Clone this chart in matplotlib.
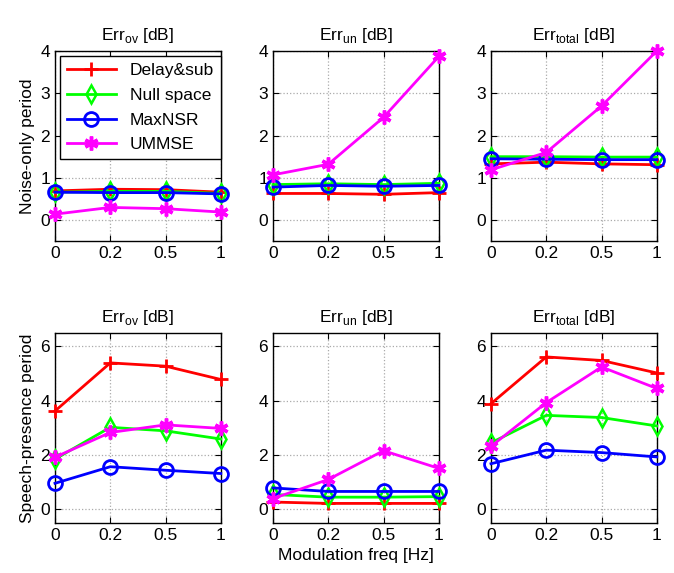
import matplotlib
matplotlib.use("Agg")
import matplotlib.pyplot as plt

plt.rcParams['font.family'] = ['Liberation Sans', 'DejaVu Sans']

# x categories (plotted equally spaced)
freqs = ["0", "0.2", "0.5", "1"]
methods = ["Delay&sub", "Null space", "MaxNSR", "UMMSE"]

# noise-only period
noise_ov = {
    "Delay&sub": [0.69, 0.73, 0.72, 0.66],
    "Null space": [0.66, 0.68, 0.68, 0.63],
    "MaxNSR": [0.66, 0.65, 0.65, 0.62],
    "UMMSE": [0.14, 0.30, 0.27, 0.19],
}
noise_un = {
    "Delay&sub": [0.63, 0.63, 0.61, 0.65],
    "Null space": [0.84, 0.86, 0.84, 0.87],
    "MaxNSR": [0.78, 0.82, 0.80, 0.82],
    "UMMSE": [1.07, 1.32, 2.43, 3.87],
}
noise_total = {
    "Delay&sub": [1.33, 1.37, 1.33, 1.31],
    "Null space": [1.50, 1.50, 1.49, 1.49],
    "MaxNSR": [1.45, 1.44, 1.43, 1.43],
    "UMMSE": [1.19, 1.60, 2.70, 4.00],
}

# speech-presence period
speech_ov = {
    "Delay&sub": [3.62, 5.39, 5.27, 4.78],
    "Null space": [1.85, 3.02, 2.89, 2.59],
    "MaxNSR": [0.96, 1.57, 1.44, 1.32],
    "UMMSE": [1.92, 2.83, 3.11, 2.98],
}
speech_un = {
    "Delay&sub": [0.27, 0.22, 0.22, 0.22],
    "Null space": [0.55, 0.45, 0.45, 0.47],
    "MaxNSR": [0.79, 0.66, 0.66, 0.66],
    "UMMSE": [0.40, 1.10, 2.16, 1.51],
}
speech_total = {
    "Delay&sub": [3.89, 5.61, 5.48, 5.02],
    "Null space": [2.45, 3.46, 3.38, 3.07],
    "MaxNSR": [1.68, 2.18, 2.09, 1.93],
    "UMMSE": [2.32, 3.93, 5.24, 4.45],
}

titles = [r"Err$_{\mathregular{ov}}$ [dB]", r"Err$_{\mathregular{un}}$ [dB]",
          r"Err$_{\mathregular{total}}$ [dB]"]

styles = {
    "Delay&sub": dict(color="#ff0000", marker="+", ms=10, mew=2),
    "Null space": dict(color="#00ff00", marker="d", ms=9, mew=1.8, mfc="none"),
    "MaxNSR": dict(color="#0000ff", marker="o", ms=10, mew=2, mfc="none"),
    "UMMSE": dict(color="#ff00ff", marker=(6, 2, 0), ms=10, mew=2.5),
}

fig = plt.figure(figsize=(6.74, 5.73), dpi=100)
lefts = [0.0816, 0.405, 0.7285]
bottoms = [0.579, 0.0873]
rows = [[noise_ov, noise_un, noise_total], [speech_ov, speech_un, speech_total]]
x = range(len(freqs))

for r in range(2):
    for c in range(3):
        ax = fig.add_axes([lefts[c], bottoms[r], 0.246, 0.332])
        data = rows[r][c]
        for m in methods:
            ax.plot(x, data[m], lw=2, label=m, clip_on=False, zorder=3, **styles[m])
        ax.set_xlim(0, 3)
        ax.set_xticks(list(x))
        ax.set_xticklabels(freqs)
        if r == 0:
            ax.set_ylim(-0.5, 4)
            ax.set_yticks([0, 1, 2, 3, 4])
        else:
            ax.set_ylim(-0.5, 6.5)
            ax.set_yticks([0, 2, 4, 6])
        ax.grid(True, linestyle=":", color="#aaaaaa", lw=0.9)
        ax.tick_params(direction="in", labelsize=12.5, top=True, right=True, length=4)
        ax.set_title(titles[c], fontsize=12.5, pad=8)
        for s in ax.spines.values():
            s.set_linewidth(1.0)
        if c == 0:
            ax.set_ylabel("Noise-only period" if r == 0 else "Speech-presence period",
                          fontsize=12.5)
        if r == 1 and c == 1:
            ax.set_xlabel("Modulation freq [Hz]", fontsize=12.5)
        if r == 0 and c == 0:
            leg = ax.legend(loc="upper left", fontsize=12.5, fancybox=False,
                            edgecolor="black", framealpha=1, handlelength=2.8,
                            borderaxespad=0.3, labelspacing=0.55)
            leg.get_frame().set_linewidth(1.0)
            leg.set_zorder(5)

fig.savefig("out.png", dpi=100)
